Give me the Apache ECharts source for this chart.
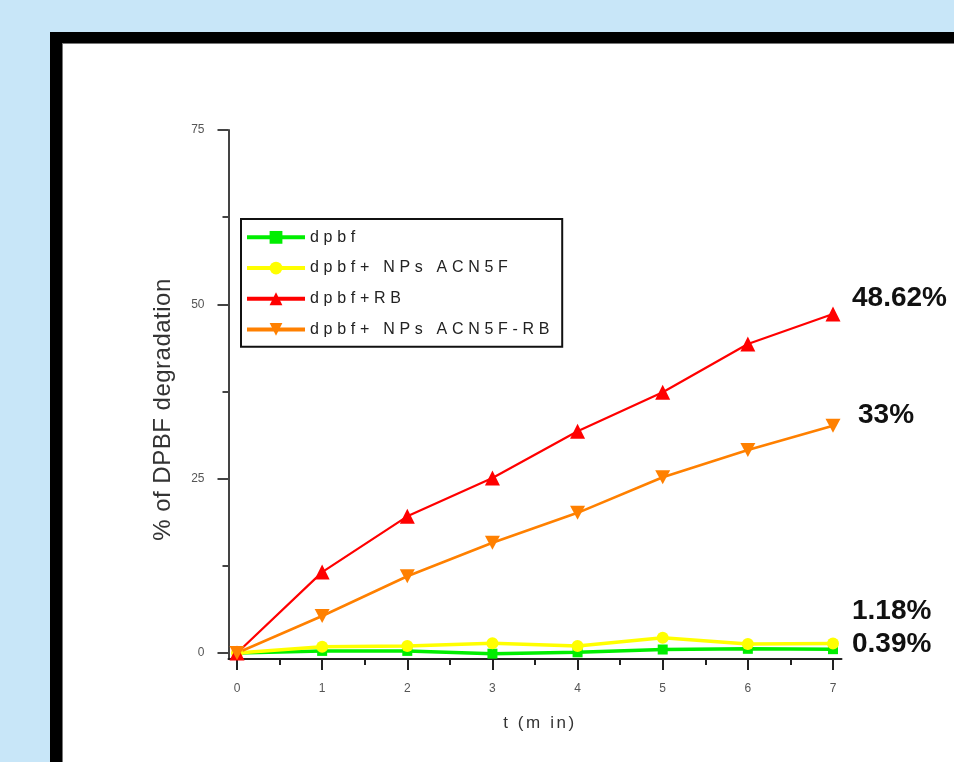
<!DOCTYPE html>
<html>
<head>
<meta charset="utf-8">
<script src="https://cdn.jsdelivr.net/npm/echarts@6/dist/echarts.min.js"></script>
<style>
  html, body { margin: 0; padding: 0; width: 954px; height: 762px; overflow: hidden; background: #c8e6f8; }
  #frame { position: absolute; left: 50px; top: 32px; width: 1000px; height: 800px; background: #000; }
  #paper { position: absolute; left: 62px; top: 43px; width: 1000px; height: 800px; background: #fff; border-left: 1px solid #777; border-top: 1px solid #777; box-sizing: border-box; }
  #chart { position: absolute; left: 0; top: 0; width: 954px; height: 762px; }
</style>
</head>
<body>
<div id="frame"></div>
<div id="paper"></div>
<div id="chart"></div>
<script>
// ---- data ----
const times = [0, 1, 2, 3, 4, 5, 6, 7];
const dpbf = [0, 0.3, 0.3, -0.1, 0.1, 0.5, 0.6, 0.55];
const dpbfNPs = [0, 0.9, 1.0, 1.4, 1.0, 2.2, 1.3, 1.35];
const dpbfRB = [0, 11.6, 19.6, 25.1, 31.8, 37.4, 44.3, 48.62];
const dpbfNPsRB = [0, 5.3, 11.0, 15.8, 20.1, 25.2, 29.1, 32.6];
const seriesNames = ['dpbf', 'dpbf+ NPs ACN5F', 'dpbf+RB', 'dpbf+ NPs ACN5F-RB'];
const xTickLabels = [0, 1, 2, 3, 4, 5, 6, 7];
const xMinorTicks = [0.5, 1.5, 2.5, 3.5, 4.5, 5.5, 6.5];
const yTickLabels = [0, 25, 50, 75];
const yMinorTicks = [12.5, 37.5, 62.5];
const endNotes = ['48.62%', '33%', '1.18%', '0.39%'];

// ---- letter spacing emulation (wide-spaced text of the original) ----
const LS = { 16: 4.7, 17: 2.6, 24: 0.5 };
function spacingFor(font) {
  if (!font) return 0;
  if (/bold/.test(font)) return 0;
  const m = /(\d+(?:\.\d+)?)px/.exec(font);
  if (!m) return 0;
  return LS[Math.round(parseFloat(m[1]))] || 0;
}
(function () {
  const proto = CanvasRenderingContext2D.prototype;
  const orig = proto.fillText;
  proto.fillText = function (t, x, y, mw) {
    const s = spacingFor(this.font);
    const has = ('letterSpacing' in this);
    if (has) this.letterSpacing = s + 'px';
    if (mw === undefined) orig.call(this, t, x, y); else orig.call(this, t, x, y, mw);
    if (has) this.letterSpacing = '0px';
  };
  const mc = document.createElement('canvas').getContext('2d');
  if (echarts.setPlatformAPI) {
    echarts.setPlatformAPI({
      measureText: function (text, font) {
        mc.font = font || '12px sans-serif';
        if ('letterSpacing' in mc) mc.letterSpacing = '0px';
        const w = mc.measureText(String(text)).width;
        const s = ('letterSpacing' in mc) ? spacingFor(mc.font) : 0;
        return { width: w + s * String(text).length };
      }
    });
  }
})();

const chart = echarts.init(document.getElementById('chart'), null, { renderer: 'canvas' });
const axisColor = '#222';
const labelColor = '#555';
const downTri = 'path://M0,0 L10,0 L5,9 Z';

const option = {
  animation: false,
  backgroundColor: 'transparent',
  textStyle: { fontFamily: 'Arial, Liberation Sans, sans-serif' },
  grid: { left: 228.5, right: 112.5, top: 130, bottom: 103, containLabel: false, outerBoundsMode: 'none' },
  legend: {
    orient: 'vertical', left: 241, top: 219,
    itemWidth: 58, itemHeight: 16, itemGap: 10,
    padding: [8, 8, 7, 4],
    borderColor: '#111', borderWidth: 2, backgroundColor: '#fff',
    lineStyle: { width: 4 },
    textStyle: { fontSize: 16, color: '#222', fontFamily: 'Arial' },
    data: seriesNames
  },
  xAxis: [{
    type: 'value', min: -0.1, max: 7.1, position: 'bottom',
    axisLine: { show: true, onZero: false, lineStyle: { color: axisColor, width: 2 } },
    axisTick: { show: true, length: 11, lineStyle: { color: axisColor, width: 2 }, customValues: xTickLabels },
    axisLabel: { show: true, customValues: xTickLabels, margin: 24, fontSize: 12, color: labelColor, fontFamily: 'Arial' },
    splitLine: { show: false },
    name: 't (m in)', nameLocation: 'middle', nameGap: 55,
    nameTextStyle: { fontSize: 17, color: '#333', fontFamily: 'Arial', padding: [0, 0, 0, 10] }
  }, {
    type: 'value', min: -0.1, max: 7.1, position: 'bottom',
    axisLine: { show: false, onZero: false },
    axisTick: { show: true, length: 6, lineStyle: { color: axisColor, width: 2 }, customValues: xMinorTicks },
    axisLabel: { show: false },
    splitLine: { show: false }
  }],
  yAxis: [{
    type: 'value', min: -0.86, max: 75, position: 'left',
    axisLine: { show: true, onZero: false, lineStyle: { color: '#444', width: 2 } },
    axisTick: { show: true, length: 11, lineStyle: { color: '#444', width: 2 }, customValues: yTickLabels },
    axisLabel: { show: true, customValues: yTickLabels, margin: 24, fontSize: 12, color: labelColor, fontFamily: 'Arial' },
    splitLine: { show: false },
    name: '% of DPBF degradation', nameLocation: 'middle', nameGap: 53,
    nameTextStyle: { fontSize: 24, color: '#333', fontFamily: 'Arial', padding: [0, 30, 0, 0] }
  }, {
    type: 'value', min: -0.86, max: 75, position: 'left',
    axisLine: { show: false, onZero: false },
    axisTick: { show: true, length: 6, lineStyle: { color: '#444', width: 2 }, customValues: yMinorTicks },
    axisLabel: { show: false },
    splitLine: { show: false }
  }],
  series: [
    {
      name: seriesNames[0], type: 'line', xAxisIndex: 0, yAxisIndex: 0,
      data: times.map((t, i) => [t, dpbf[i]]),
      symbol: 'rect', symbolSize: 10,
      itemStyle: { color: '#00ee00' }, lineStyle: { color: '#00ee00', width: 3.5 }
    },
    {
      name: seriesNames[1], type: 'line', xAxisIndex: 0, yAxisIndex: 0,
      data: times.map((t, i) => [t, dpbfNPs[i]]),
      symbol: 'circle', symbolSize: 12,
      itemStyle: { color: '#ffff00' }, lineStyle: { color: '#ffff00', width: 3.5 }
    },
    {
      name: seriesNames[2], type: 'line', xAxisIndex: 0, yAxisIndex: 0,
      data: times.map((t, i) => [t, dpbfRB[i]]),
      symbol: 'triangle', symbolSize: 15,
      itemStyle: { color: '#ff0000' }, lineStyle: { color: '#ff0000', width: 2.2 }
    },
    {
      name: seriesNames[3], type: 'line', xAxisIndex: 0, yAxisIndex: 0,
      data: times.map((t, i) => [t, dpbfNPsRB[i]]),
      symbol: downTri, symbolSize: [15, 14],
      itemStyle: { color: '#ff8000' }, lineStyle: { color: '#ff8000', width: 2.6 }
    }
  ],
  graphic: [
    { type: 'text', left: 852, top: 284, style: { text: endNotes[0], font: 'bold 28px Arial', fill: '#111' } },
    { type: 'text', left: 858, top: 401, style: { text: endNotes[1], font: 'bold 28px Arial', fill: '#111' } },
    { type: 'text', left: 852, top: 597, style: { text: endNotes[2], font: 'bold 28px Arial', fill: '#111' } },
    { type: 'text', left: 852, top: 630, style: { text: endNotes[3], font: 'bold 28px Arial', fill: '#111' } }
  ]
};
chart.setOption(option);
</script>
</body>
</html>
